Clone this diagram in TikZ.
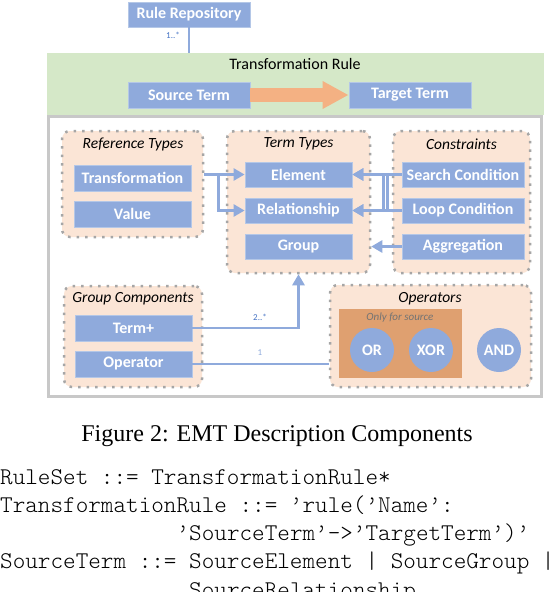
\documentclass[tikz,border=0pt]{standalone}
\usepackage{fontspec}
\setmainfont{Carlito}
\newfontfamily\capfont{Liberation Serif}
\newfontfamily\codefont{Latin Modern Mono Light}
\usetikzlibrary{arrows.meta,calc}
\definecolor{boxblue}{HTML}{8FAADC}
\definecolor{boxedge}{HTML}{B4C7E7}
\definecolor{peach}{HTML}{FBE5D6}
\definecolor{dotgray}{HTML}{A6A6A6}
\definecolor{framegray}{HTML}{C8C8C8}
\definecolor{bandgreen}{HTML}{D5E8C8}
\definecolor{arroworange}{HTML}{F4B183}
\definecolor{srcorange}{HTML}{DFA070}
\definecolor{lblblue}{HTML}{4472C4}
\begin{document}
\begin{tikzpicture}[x=1pt,y=-1pt,
  bluebox/.style={fill=boxblue, draw=boxedge, line width=0.8pt, text=white,
    font=\fontsize{16}{18}\selectfont\bfseries, inner sep=0pt},
  groupbox/.style={fill=peach, draw=dotgray, line width=2.5pt,
    dash pattern=on 2.5pt off 6pt, rounded corners=8pt, inner sep=0pt},
  grouptitle/.style={font=\fontsize{15.5}{17}\selectfont\itshape, text=black, inner sep=0pt},
  circ/.style={circle, fill=boxblue, text=white, minimum size=44pt, inner sep=0pt,
    font=\fontsize{16}{18}\selectfont\bfseries},
  conn/.style={draw=boxblue, line width=2.6pt},
  conntip/.style={conn, -{Triangle[length=11pt,width=12pt]}},
  lbl/.style={font=\fontsize{9}{10}\selectfont, text=lblblue, inner sep=0pt},
  codeline/.style={font=\codefont\fontsize{24}{26}\selectfont, anchor=base west, inner sep=0pt},
]
\useasboundingbox (0,0) rectangle (554,592);

% frame and band
\node[draw=framegray, line width=3pt, fill=white, minimum width=493pt, minimum height=280pt, inner sep=0pt] (frame) at (295,256.5) {};
\node[fill=bandgreen, minimum width=497pt, minimum height=62pt, inner sep=0pt] (band) at (295.5,84) {};
\node[font=\fontsize{16}{18}\selectfont, inner sep=0pt] (bandtitle) at (295,64) {Transformation Rule};

% top
\node[bluebox, minimum width=122pt, minimum height=25pt] (repo) at (189,14.5) {Rule Repository};
\draw[conn] (repo.south) -- (repo.south |- band.north);
\node[lbl] (l1) at (173,35) {1..*};
\node[bluebox, minimum width=122pt, minimum height=26pt] (src) at (189,95) {Source Term};
\node[bluebox, minimum width=122pt, minimum height=26pt] (tgt) at (410,95) {Target Term};
\draw[draw=arroworange, line width=14pt, -{Triangle[length=26pt,width=26pt]}] (src.east) -- (tgt.west);

% groups
\node[groupbox, minimum width=141pt, minimum height=106pt] (reftypes) at (132.5,184) {};
\node[grouptitle] (reftitle) at (133,144) {Reference Types};
\node[bluebox, minimum width=117pt, minimum height=26pt] (trans) at (132.5,178) {Transformation};
\node[bluebox, minimum width=117pt, minimum height=26pt] (value) at (132.5,214) {Value};

\node[groupbox, minimum width=143pt, minimum height=142pt] (termtypes) at (298.5,202) {};
\node[grouptitle] (termtitle) at (298.5,144) {Term Types};
\node[bluebox, minimum width=107pt, minimum height=25pt] (element) at (298.5,174.5) {Element};
\node[bluebox, minimum width=107pt, minimum height=25pt] (relationship) at (298.5,210.5) {Relationship};
\node[bluebox, minimum width=107pt, minimum height=25pt] (group) at (298.5,246.5) {Group};

\node[groupbox, minimum width=137pt, minimum height=142pt] (constraints) at (461.5,202) {};
\node[grouptitle] (contitle) at (461.5,144) {Constraints};
\node[bluebox, minimum width=122pt, minimum height=25pt] (search) at (463,174.5) {Search Condition};
\node[bluebox, minimum width=122pt, minimum height=25pt] (loop) at (463,210.5) {Loop Condition};
\node[bluebox, minimum width=122pt, minimum height=25pt] (aggregation) at (463,246.5) {Aggregation};

\node[groupbox, minimum width=138pt, minimum height=101pt] (groupcomp) at (133,336.5) {};
\node[grouptitle] (gctitle) at (133,299) {Group Components};
\node[bluebox, minimum width=117pt, minimum height=26pt] (termplus) at (133.5,328) {Term+};
\node[bluebox, minimum width=117pt, minimum height=26pt] (operator) at (133.5,364) {Operator};

\node[groupbox, minimum width=201pt, minimum height=102pt] (operators) at (430.5,336) {};
\node[grouptitle] (optitle) at (430,299) {Operators};
\node[fill=srcorange, minimum width=123pt, minimum height=69pt, inner sep=0pt] (srconly) at (400.5,343.5) {};
\node[font=\fontsize{11}{12}\selectfont\itshape, text=black!55, inner sep=0pt] (srclbl) at (400,318) {Only for source};
\node[circ] (or) at (372,350) {OR};
\node[circ] (xor) at (431,350) {XOR};
\node[circ] (and) at (499,350) {AND};

% connectors
\draw[conntip] (reftypes.east |- element.west) -- (element.west);
\draw[conntip] ($(reftypes.east |- element.west)+(14,0)$) |- (relationship.west);
\draw[conntip] (search.west) -- ++(-18,0) |- (relationship.east);
\draw[conntip] (loop.west) -- ++(-14,0) |- (element.east);
\draw[conntip] (search.west) -- (element.east);
\draw[conntip] (loop.west) -- (relationship.east);
\draw[conntip] (aggregation.west) -- (aggregation.west -| termtypes.east);
\draw[conntip] (termplus.east) -| (termtypes.south);
\node[lbl] (l2) at (260,317) {2..*};
\draw[conn] (operator.east) -- (operator.east -| operators.west);
\node[lbl, text=boxblue] (l3) at (260,353) {1};

% caption and code
\node[font=\capfont\fontsize{24}{28}\selectfont, anchor=base, inner sep=0pt] (caption) at (277,441) {Figure 2: EMT Description Components};
\node[codeline] (c1) at (0,484) {RuleSet ::= TransformationRule*};
\node[codeline] (c2) at (0,512) {TransformationRule ::= ’rule(’Name’:};
\node[codeline] (c3) at (176.4,540) {’SourceTerm’->’TargetTerm’)’};
\node[codeline] (c4) at (0,568) {SourceTerm ::= SourceElement | SourceGroup |};
\node[codeline] (c5) at (189,597) {SourceRelationship};
\end{tikzpicture}
\end{document}
